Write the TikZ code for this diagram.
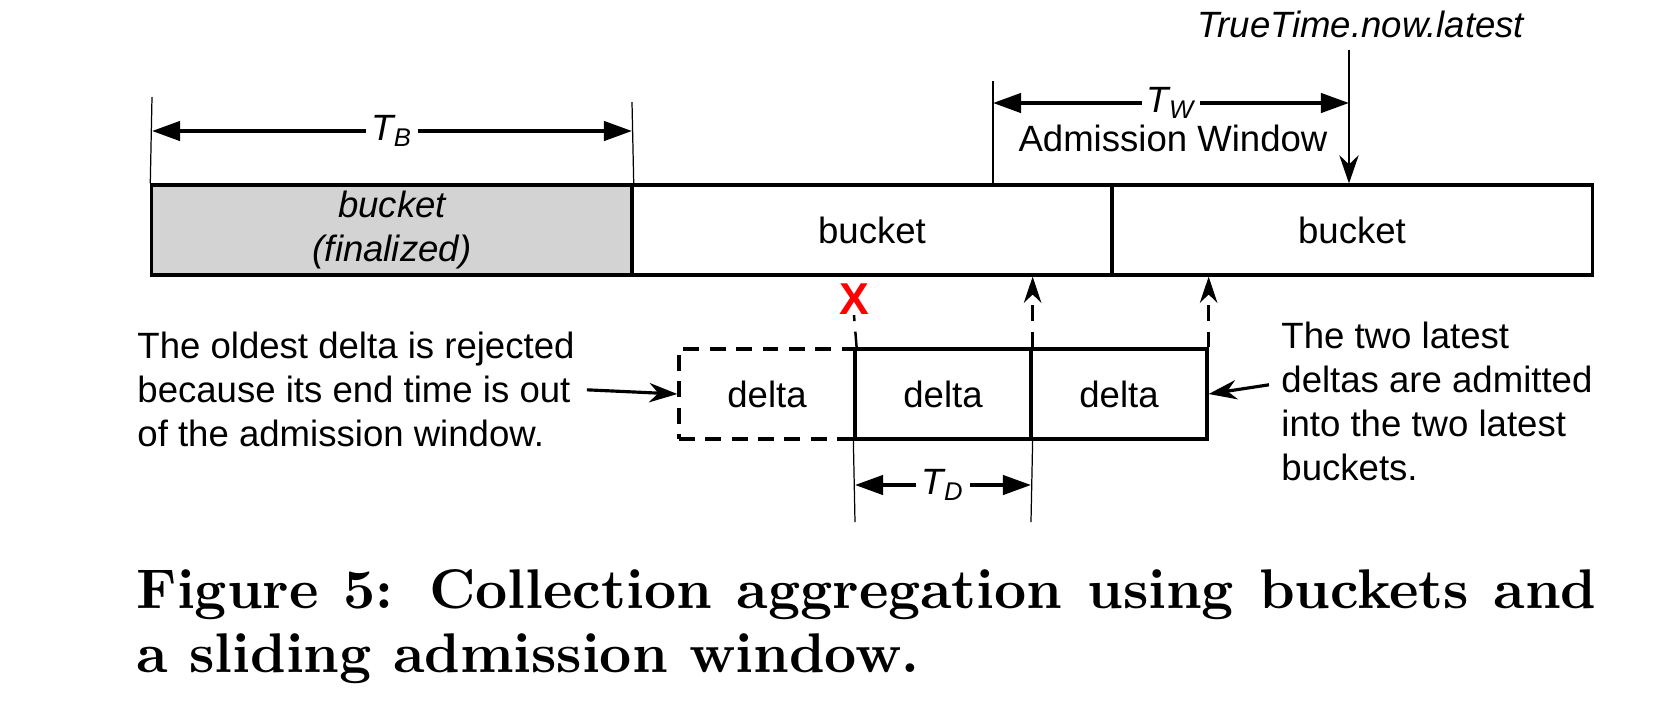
\documentclass[tikz,border=0pt]{standalone}
\usepackage{fontspec}
\usetikzlibrary{arrows.meta}
\newfontfamily\helv{Liberation Sans}
\font\capbf=cmbx10 at 15.9pt
\definecolor{finalgray}{RGB}{211,211,211}

\begin{document}
\begin{tikzpicture}[x=0.01cm,y=-0.01cm,>={Triangle[length=8pt,width=5.5pt]}]
				\tikzstyle{every node} = [font=\helv\fontsize{10.4}{12.5}\selectfont]
				\tikzstyle{box} = [line width=0.9pt, minimum height=0.9cm, inner sep=0pt]
				\tikzstyle{bucket} = [box, draw, minimum width=4.8cm]
				\tikzstyle{final} = [bucket, fill=finalgray, align=center, font=\helv\itshape\fontsize{10.4}{12.5}\selectfont]
				\tikzstyle{delta} = [box, draw, minimum width=1.76cm]
				\tikzstyle{gone} = [delta, dash pattern=on 4.5pt off 3pt]
				\tikzstyle{tick} = [line width=0.35pt]
				\tikzstyle{dim} = [{Triangle[length=8pt,width=5.5pt]}-{Triangle[length=8pt,width=5.5pt]}, line width=1pt]
				\tikzstyle{lbl} = [fill=white, inner sep=1.5pt, font=\helv\itshape\fontsize{10.4}{12.5}\selectfont]
				\tikzstyle{note} = [align=left, anchor=north west]
				\tikzstyle{point} = [-{Stealth[length=8pt,width=5.5pt]}, line width=0.9pt]
				\tikzstyle{dashline} = [line width=0.7pt, dash pattern=on 4.5pt off 3pt]
				\tikzstyle{admit} = [dashline, -{Stealth[length=7.5pt,width=5pt]}]
				\tikzstyle{cross} = [text=red, inner sep=0pt, font=\helv\bfseries\fontsize{12.7}{14}\selectfont]

				\useasboundingbox (0,0) rectangle (1662,708);

				\node[final] (BucketOne) at (392,230) {bucket\\(finalized)};
				\node[bucket] (BucketTwo) at (872,230) {bucket};
				\node[bucket] (BucketThree) at (1352,230) {bucket};

				\coordinate (TBl) at (152,97);
				\coordinate (TBr) at (632,102);
				\coordinate (TBa) at (152,131);
				\coordinate (TBb) at (632,131);
				\draw[tick] (BucketOne.north west) -- (TBl);
				\draw[tick] (BucketOne.north east) -- (TBr);
				\draw[dim] (TBa) -- node[lbl] {T\textsubscript{B}} (TBb);

				\coordinate (TWtop) at (993,81);
				\coordinate (TWa) at (993,103);
				\coordinate (TWb) at (1349,103);
				\draw[tick] (TWtop) -- (TWtop |- BucketTwo.north);
				\draw[dim] (TWa) -- node[lbl] {T\textsubscript{W}} (TWb);
				\node (Window) at (1173,138) {Admission Window};
				\node (Now) at (1361,24) {\itshape TrueTime.now.latest};
				\draw[point, line width=0.7pt] (Now.south -| TWb) -- (TWb |- BucketThree.north);

				\node[gone] (DeltaOne) at (767,394) {delta};
				\node[delta] (DeltaTwo) at (943,394) {delta};
				\node[delta] (DeltaThree) at (1119,394) {delta};

				\node[cross] (Cross) at (854,299) {X};
				\draw[dashline] (DeltaOne.north east) -- (Cross.south);
				\draw[admit] (DeltaTwo.north east) -- (DeltaTwo.north east |- BucketTwo.south);
				\draw[admit] (DeltaThree.north east) -- (DeltaThree.north east |- BucketThree.south);

				\coordinate (TDl) at (855,522);
				\coordinate (TDr) at (1031,522);
				\coordinate (TDa) at (855,485);
				\coordinate (TDb) at (1031,485);
				\draw[tick] (DeltaTwo.south west) -- (TDl);
				\draw[tick] (DeltaTwo.south east) -- (TDr);
				\draw[dim] (TDa) -- node[lbl] {T\textsubscript{D}} (TDb);

				\node[note] (Rejected) at (125,320) {The oldest delta is rejected\\because its end time is out\\of the admission window.};
				\node[note] (Admitted) at (1269,310) {The two latest\\deltas are admitted\\into the two latest\\buckets.};
				\draw[point] (Rejected.east) -- (DeltaOne.west);
				\draw[point] ([yshift=0.17cm]Admitted.west) -- (DeltaThree.east);

				\node[anchor=north west, text width=14.6cm, align=justify, inner sep=0pt, font=\capbf] (Caption) at (136,569) {\baselineskip=18.2pt\hyphenpenalty=10000 Figure 5: Collection aggregation using buckets and a sliding admission window.\par};
\end{tikzpicture}
\end{document}
